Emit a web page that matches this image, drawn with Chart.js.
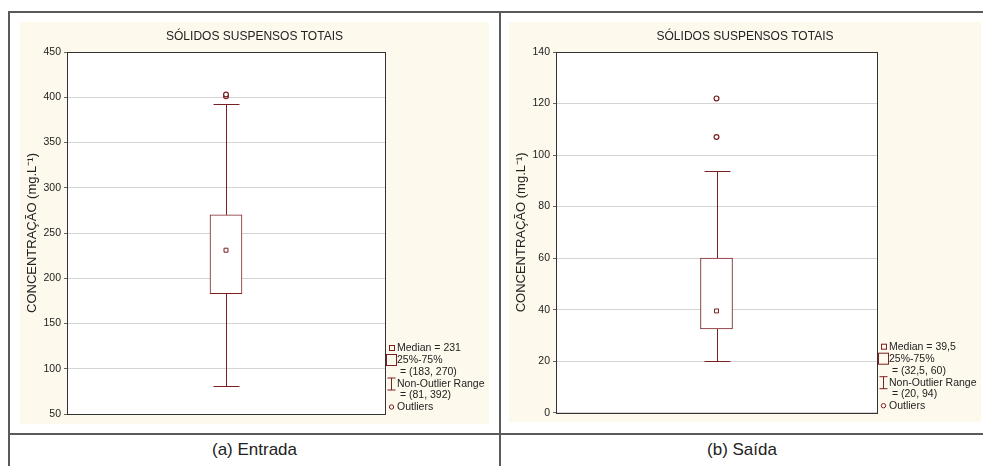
<!DOCTYPE html>
<html>
<head>
<meta charset="utf-8">
<script src="https://cdn.jsdelivr.net/npm/chart.js@4/dist/chart.umd.min.js"></script>
<style>
  html, body { margin: 0; padding: 0; background: #fff; width: 983px; height: 466px; overflow: hidden; }
  body { position: relative; font-family: 'Liberation Sans', Arial, sans-serif; }
  .line { position: absolute; background: #5a5a5a; }
  .panel { position: absolute; background: #fdf9ed; }
  .caption { position: absolute; top: 440px; height: 26px; text-align: center; font-size: 17px; color: #222; }
</style>
</head>
<body>
  <div class="panel" style="left:20px;top:22px;width:469px;height:402px;"><canvas id="c0" width="469" height="402"></canvas></div>
  <div class="panel" style="left:509px;top:22px;width:472px;height:400px;"><canvas id="c1" width="472" height="400"></canvas></div>

  <div class="line" style="left:9px;top:11px;width:974px;height:2px;"></div>
  <div class="line" style="left:8px;top:11px;width:2px;height:455px;"></div>
  <div class="line" style="left:499px;top:11px;width:2px;height:455px;"></div>
  <div class="line" style="left:9px;top:433px;width:974px;height:2px;"></div>

  <div class="caption" id="cap0" style="left:10px;width:489px;"></div>
  <div class="caption" id="cap1" style="left:501px;width:482px;"></div>

<script>
// Suspended-solids box plots: inlet (Entrada) and outlet (Saída)
const categories = ['Entrada', 'Saída'];
const captions = ['(a) Entrada', '(b) Saída'];
const chartTitle = 'SÓLIDOS SUSPENSOS TOTAIS';
const yTitle = 'CONCENTRAÇÃO (mg.L\u207B\u00B9)';

const medians = [231, 39.5];
const q1 = [183, 32.5];
const q3 = [270, 60];
const whiskerLow = [81, 20];
const whiskerHigh = [392, 94];
const outliers = [[401, 403], [107, 122]];

const yMin = [50, 0];
const yMax = [450, 140];
const yStep = [50, 20];

const MAROON = '#7a1f22';
const FONT = "'Liberation Sans', Arial, sans-serif";

const fmt = v => String(v).replace('.', ',');

// white plot area, frame, title, whiskers and the statistics key
const boxPlotDecor = {
  id: 'boxPlotDecor',
  beforeDatasetsDraw(chart) {
    const { ctx } = chart;
    const i = chart.options.plugins.boxPlotDecor.index;
    const y = chart.scales.y;
    const bar = chart.getDatasetMeta(0).data[0];
    const x = Math.round(bar.x) + 0.5;
    const cap = 13;
    ctx.save();
    ctx.strokeStyle = MAROON;
    ctx.lineWidth = 1;
    const yl = Math.round(y.getPixelForValue(whiskerLow[i])) + 0.5;
    const yh = Math.round(y.getPixelForValue(whiskerHigh[i])) + 0.5;
    const y1 = y.getPixelForValue(q1[i]);
    const y3 = y.getPixelForValue(q3[i]);
    ctx.beginPath();
    ctx.moveTo(x, yl); ctx.lineTo(x, y1);
    ctx.moveTo(x, y3); ctx.lineTo(x, yh);
    ctx.moveTo(x - cap, yl); ctx.lineTo(x + cap, yl);
    ctx.moveTo(x - cap, yh); ctx.lineTo(x + cap, yh);
    ctx.stroke();
    ctx.restore();
  },
  beforeDraw(chart) {
    const { ctx, chartArea: a } = chart;
    ctx.save();
    ctx.fillStyle = '#ffffff';
    ctx.fillRect(a.left, a.top, a.right - a.left, a.bottom - a.top);
    ctx.restore();
  },
  afterDraw(chart) {
    const { ctx, chartArea: a, width } = chart;
    const i = chart.options.plugins.boxPlotDecor.index;
    ctx.save();
    // plot frame
    ctx.strokeStyle = '#333';
    ctx.lineWidth = 1;
    ctx.strokeRect(Math.round(a.left) + 0.5, Math.round(a.top) + 0.5,
                   Math.round(a.right - a.left), Math.round(a.bottom - a.top));
    // title
    ctx.fillStyle = '#222';
    ctx.font = '12px ' + FONT;
    ctx.textAlign = 'center';
    ctx.textBaseline = 'middle';
    ctx.fillText(chartTitle, width / 2, 15);

    // key
    const sx = a.right + 7;
    const tx = a.right + 12;
    const b = a.bottom;
    const rows = [
      'Median = ' + fmt(medians[i]),
      '25%-75%',
      ' = (' + fmt(q1[i]) + ', ' + fmt(q3[i]) + ')',
      'Non-Outlier Range',
      ' = (' + fmt(whiskerLow[i]) + ', ' + fmt(whiskerHigh[i]) + ')',
      'Outliers'
    ];
    const ys = [b - 66, b - 54, b - 42, b - 30, b - 19, b - 7];
    ctx.font = '10.5px ' + FONT;
    ctx.textAlign = 'left';
    rows.forEach((t, k) => ctx.fillText(t, tx, ys[k]));

    ctx.strokeStyle = MAROON;
    ctx.lineWidth = 1;
    // median marker
    ctx.strokeRect(sx - 2.5, ys[0] - 2.5, 5, 5);
    // box marker
    ctx.strokeRect(sx - 5.5, ys[1] - 5.5, 10, 11);
    // range marker
    ctx.beginPath();
    const rx = sx - 0.5;
    ctx.moveTo(rx, ys[3] - 6); ctx.lineTo(rx, ys[3] + 6);
    ctx.moveTo(rx - 4, ys[3] - 6); ctx.lineTo(rx + 4, ys[3] - 6);
    ctx.moveTo(rx - 4, ys[3] + 6); ctx.lineTo(rx + 4, ys[3] + 6);
    ctx.stroke();
    // outlier marker
    ctx.beginPath();
    ctx.arc(sx - 0.5, ys[5], 2.2, 0, Math.PI * 2);
    ctx.stroke();
    ctx.restore();
  }
};

function makeChart(i, padding) {
  const cat = categories[i];
  new Chart(document.getElementById('c' + i), {
    type: 'bar',
    data: {
      labels: [cat],
      datasets: [
        {
          type: 'bar',
          label: '25%-75%',
          data: [[q1[i], q3[i]]],
          backgroundColor: '#ffffff',
          borderColor: MAROON,
          borderWidth: 1,
          borderSkipped: false,
          barThickness: 32,
          order: 3
        },
        {
          type: 'scatter',
          label: 'Median',
          data: [{ x: cat, y: medians[i] }],
          pointStyle: 'rect',
          pointRadius: 2.8,
          backgroundColor: '#ffffff',
          borderColor: MAROON,
          borderWidth: 1,
          order: 1
        },
        {
          type: 'scatter',
          label: 'Outliers',
          data: outliers[i].map(v => ({ x: cat, y: v })),
          pointStyle: 'circle',
          pointRadius: 2.4,
          backgroundColor: '#ffffff',
          borderColor: MAROON,
          borderWidth: 1.2,
          order: 0
        }
      ]
    },
    options: {
      responsive: false,
      animation: false,
      devicePixelRatio: 1,
      layout: { padding: padding },
      plugins: {
        legend: { display: false },
        tooltip: { enabled: false },
        title: { display: false },
        boxPlotDecor: { index: i }
      },
      scales: {
        x: { type: 'category', display: false, offset: true },
        y: {
          min: yMin[i],
          max: yMax[i],
          ticks: {
            stepSize: yStep[i],
            color: '#222',
            padding: 3,
            font: { family: FONT, size: 10.5 }
          },
          grid: {
            color: '#d4d4d4',
            lineWidth: 1,
            drawTicks: true,
            tickLength: 3,
            tickColor: '#666'
          },
          border: { display: false },
          title: {
            display: true,
            text: yTitle,
            color: '#222',
            font: { family: FONT, size: 13 },
            padding: { top: 5, bottom: 0 }
          },
          afterFit(scale) { scale.width = 47; }
        }
      }
    },
    plugins: [boxPlotDecor]
  });
  document.getElementById('cap' + i).textContent = captions[i];
}

makeChart(0, { top: 30, right: 104, bottom: 10, left: 0 });
makeChart(1, { top: 30, right: 104, bottom: 8, left: 0 });
</script>
</body>
</html>
